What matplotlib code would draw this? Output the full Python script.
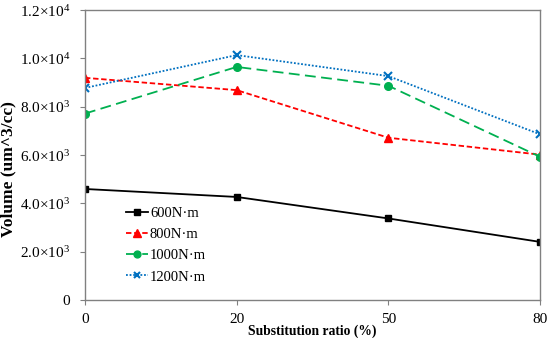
import matplotlib
matplotlib.use("Agg")
import matplotlib.pyplot as plt

plt.rcParams['font.family'] = ['Liberation Serif', 'DejaVu Serif']
plt.rcParams['mathtext.fontset'] = 'custom'
plt.rcParams['mathtext.rm'] = 'Liberation Serif'
plt.rcParams['mathtext.it'] = 'Liberation Serif:italic'
plt.rcParams['mathtext.bf'] = 'Liberation Serif:bold'

categories = ["0", "20", "50", "80"]
s600 = [4600, 4270, 3380, 2410]
s800 = [9200, 8690, 6720, 6020]
s1000 = [7720, 9650, 8870, 5930]
s1200 = [8780, 10140, 9270, 6860]
yticks = [0, 2000, 4000, 6000, 8000, 10000, 12000]
ytick_labels = ["0", r"2.0$\times$10$^{3}$", r"4.0$\times$10$^{3}$", r"6.0$\times$10$^{3}$",
                r"8.0$\times$10$^{3}$", r"1.0$\times$10$^{4}$", r"1.2$\times$10$^{4}$"]

fig = plt.figure(figsize=(5.5, 3.38), dpi=100)
ax = fig.add_axes([0.1545, 0.112, 0.8275, 0.858])
x = list(range(len(categories)))

ax.plot(x, s600, color='black', lw=1.3, marker='s', ms=5, label='600N·m')
ax.plot(x, s800, color='#FF0000', lw=1.3, ls=(0, (3, 1.5)), marker='^', ms=6, label='800N·m')
ax.plot(x, s1000, color='#00B050', lw=1.3, ls=(0, (6, 3)), marker='o', ms=5.5, label='1000N·m')
ax.plot(x, s1200, color='#0070C0', lw=1.3, ls=(0, (1, 1)), marker='x', ms=5.5, mew=1.5, label='1200N·m')

ax.set_xlim(0, 3)
ax.set_ylim(0, 12000)
ax.set_xticks(x)
ax.set_xticklabels(categories)
ax.set_yticks(yticks)
ax.set_yticklabels(ytick_labels)
ax.tick_params(axis='both', labelsize=11, color='#808080', length=3.5, direction='out')
ax.tick_params(axis='y', pad=7)
ax.tick_params(axis='x', pad=6)
for sp in ax.spines.values():
    sp.set_color('#808080')
    sp.set_linewidth(1.0)

ax.set_xlabel('Substitution ratio (%)', fontweight='bold', fontsize=9.8, labelpad=-1)
ax.set_ylabel('Volume (um^3/cc)', fontweight='bold', fontsize=12.5)
ax.yaxis.set_label_coords(-0.15, 0.452)

ax.legend(loc='lower left', bbox_to_anchor=(0.062, 0.012), frameon=False, fontsize=10.5,
          handlelength=1.5, handletextpad=0.12, labelspacing=0.55, markerscale=0.9)

fig.savefig('out.png', dpi=100)
